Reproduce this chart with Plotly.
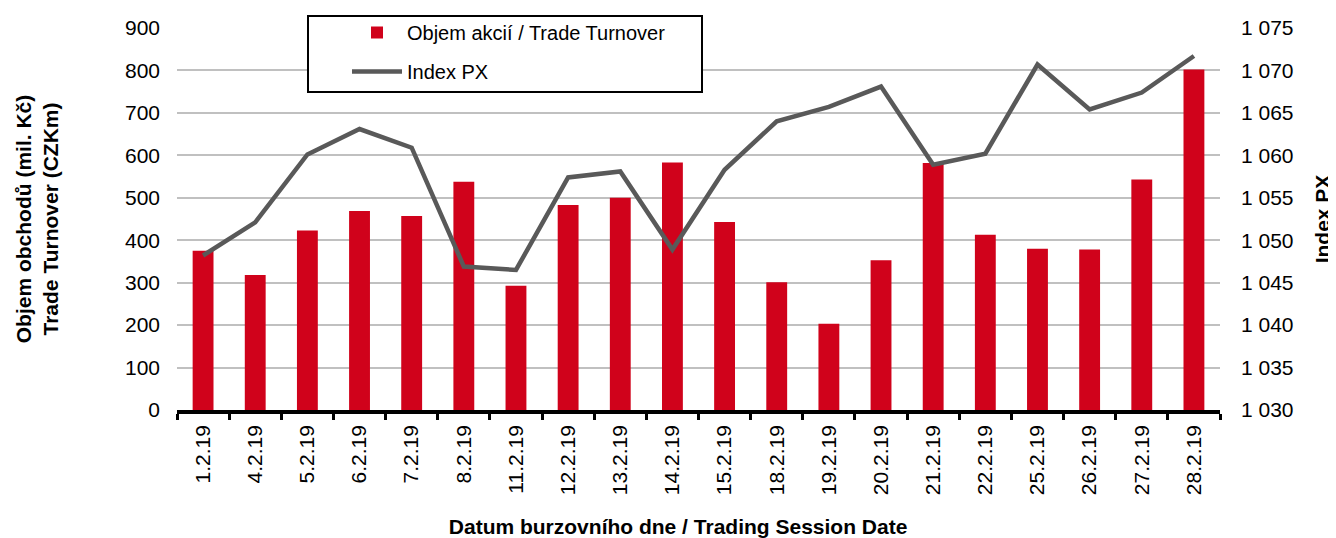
import plotly.graph_objects as go

dates = ["1.2.19", "4.2.19", "5.2.19", "6.2.19", "7.2.19", "8.2.19", "11.2.19",
         "12.2.19", "13.2.19", "14.2.19", "15.2.19", "18.2.19", "19.2.19", "20.2.19",
         "21.2.19", "22.2.19", "25.2.19", "26.2.19", "27.2.19", "28.2.19"]
turnover = [375, 318, 423, 469, 457, 538, 293, 483, 500, 583,
            443, 301, 203, 353, 582, 413, 380, 378, 543, 802]
index_px = [1048.2, 1052.1, 1060.1, 1063.1, 1060.9, 1046.9, 1046.5, 1057.4, 1058.1, 1048.9,
            1058.3, 1064.0, 1065.7, 1068.1, 1058.9, 1060.2, 1070.7, 1065.4, 1067.4, 1071.7]

left_ticks = list(range(0, 901, 100))
right_ticks = list(range(1030, 1076, 5))

FONT = "Liberation Sans, Arial, sans-serif"
RED = "#D0021B"
GRAY = "#595959"

# page body has an 8px margin, so the figure is 8px smaller than the window
OFF = 8
W, H = 1336 - OFF, 538 - OFF
X0, X1, Y0, Y1 = 177, 1220, 28, 410          # plot area in window pixels
L, T = X0 - OFF, Y0 - OFF
R, B = W - (X1 - OFF), H - (Y1 - OFF)
PW, PH = X1 - X0, Y1 - Y0

def px_x(x):
    return (x - X0) / PW

def px_y(y):
    return (Y1 - y) / PH

fig = go.Figure()
fig.add_trace(go.Bar(
    x=dates, y=turnover, name="Objem akcií / Trade Turnover",
    marker=dict(color=RED, line=dict(width=0)), legend="legend",
))
fig.add_trace(go.Scatter(
    x=dates, y=index_px, name="Index PX", mode="lines", yaxis="y2",
    line=dict(color=GRAY, width=4.5), legend="legend2",
))

fig.update_layout(
    width=W, height=H,
    margin=dict(l=L, r=R, t=T, b=B, autoexpand=False),
    paper_bgcolor="white", plot_bgcolor="white",
    font=dict(family=FONT, size=21, color="black"),
    separators=", ",
    bargap=0.6,
    showlegend=True,
    xaxis=dict(
        type="category", tickangle=-90, showgrid=False,
        showline=True, linecolor="black", linewidth=3.5,
        ticks="outside", tickson="boundaries", ticklen=6, tickwidth=3, tickcolor="black",
        ticklabelstandoff=3,
        tickfont=dict(size=21),
        title=dict(text="Datum burzovního dne / Trading Session Date" + "&nbsp;" * 7,
                   font=dict(size=21, weight="bold"), standoff=29),
    ),
    yaxis=dict(
        range=[0, 900], tickvals=left_ticks, showgrid=True, gridcolor="#C0C0C0", gridwidth=2,
        zeroline=False, showline=False, ticks="", ticklabelstandoff=16,
        tickfont=dict(size=21),
        title=dict(text="Objem obchodů (mil. Kč)<br>Trade Turnover (CZKm)",
                   font=dict(size=21, weight="bold"), standoff=60),
    ),
    yaxis2=dict(
        range=[1030, 1075], tickvals=right_ticks, tickformat=",d", overlaying="y", side="right",
        showgrid=False, zeroline=False, showline=False, ticks="", ticklabelstandoff=20,
        tickfont=dict(size=21),
        title=dict(text="Index PX", font=dict(size=21, weight="bold"), standoff=22),
    ),
    legend=dict(
        x=px_x(347), y=px_y(13), xanchor="left", yanchor="top",
        bgcolor="rgba(0,0,0,0)", borderwidth=0, itemwidth=50,
        font=dict(size=20),
    ),
    legend2=dict(
        x=px_x(347), y=px_y(52), xanchor="left", yanchor="top",
        bgcolor="rgba(0,0,0,0)", borderwidth=0, itemwidth=50,
        font=dict(size=20),
    ),
    shapes=[dict(
        type="rect", xref="paper", yref="paper", layer="above",
        x0=px_x(308), x1=px_x(702), y0=px_y(92), y1=px_y(16),
        fillcolor="white", line=dict(color="black", width=2),
    )],
)

fig.write_html("out.html")
